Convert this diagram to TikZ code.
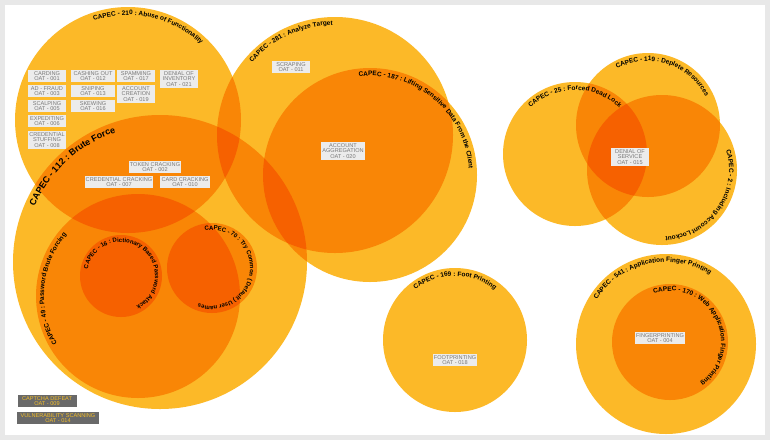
\documentclass[tikz,border=0pt]{standalone}
\usepackage{fontspec}
\setmainfont{Liberation Sans}
\usetikzlibrary{decorations.text}
\definecolor{ylo}{RGB}{252,185,40}
\definecolor{boxg}{RGB}{236,236,236}
\definecolor{boxt}{RGB}{120,120,120}
\definecolor{dark}{RGB}{105,105,105}
\definecolor{capy}{RGB}{245,190,40}
\begin{document}
\begin{tikzpicture}[x=1pt,y=1pt,
  circ/.style={fill=ylo,blend mode=multiply,draw=none},
  oat/.style={fill=boxg,text=boxt,font=\fontsize{5.6}{5.8}\selectfont,align=center,inner sep=1.2pt,minimum width=38pt},
  oatd/.style={fill=dark,text=capy,font=\fontsize{5.6}{5.8}\selectfont,align=center,inner sep=1.2pt}]
\fill[gray!18] (0,0) rectangle (770,-440);
\fill[white] (5,-5) rectangle (765,-435);
\useasboundingbox (0,0) rectangle (770,-440);
\newcommand{\Lab}[6]{% center, radius, a1, a2, size, text
 \path[decorate,decoration={text along path,text align=center,
   text={|\bfseries\fontsize{#5}{#5}\selectfont|#6}}] (#1) ++(#3:#2) arc[start angle=#3,end angle=#4,radius=#2];}
\begin{scope}[transparency group]
\fill[circ] (128,-120) circle (113);
\fill[circ] (335,-135) circle (118);
\fill[circ] (370,-175) circle (107);
\fill[circ] (160,-262) circle (147);
\fill[circ] (138,-296) circle (102);
\fill[circ] (121,-276) circle (41);
\fill[circ] (212,-268) circle (45);
\fill[circ] (575,-154) circle (72);
\fill[circ] (648,-125) circle (72);
\fill[circ] (662,-170) circle (75);
\fill[circ] (455,-340) circle (72);
\fill[circ] (666,-344) circle (90);
\fill[circ] (670,-342) circle (58);
\end{scope}
\coordinate (c210) at (128,-120);
\coordinate (c281) at (335,-135);
\coordinate (c187) at (370,-175);
\coordinate (c112) at (160,-262);
\coordinate (c49) at (138,-296);
\coordinate (c16) at (121,-276);
\coordinate (c70) at (212,-268);
\coordinate (c25) at (575,-154);
\coordinate (c119) at (648,-125);
\coordinate (c2) at (662,-170);
\coordinate (c169) at (455,-340);
\coordinate (c541) at (666,-344);
\coordinate (c170) at (670,-342);
\Lab{c210}{105}{125}{30}{6.5}{CAPEC - 210 : Abuse of Functionality}
\Lab{c281}{110}{160}{70}{6.5}{CAPEC - 281 : Analyze Target}
\Lab{c187}{99}{115}{-15}{6.5}{CAPEC - 187 : Lifting Sensitive Data From the Client}
\Lab{c112}{137}{165}{100}{9}{CAPEC - 112 : Brute Force}
\Lab{c49}{94}{215}{135}{6.5}{CAPEC - 49 : Password Brute Forcing}
\Lab{c16}{34}{225}{-120}{6}{CAPEC - 16 : Dictionary Based Password Attack}
\Lab{c70}{38}{165}{-175}{6}{CAPEC - 70 : Try Common ( Default ) User names}
\Lab{c25}{64}{140}{40}{6.5}{CAPEC - 25 : Forced Dead Lock}
\Lab{c119}{64}{125}{20}{6.5}{CAPEC - 119 : Deplete Resources}
\Lab{c2}{67}{30}{-100}{6.5}{CAPEC - 2 : Including Account Lockout}
\Lab{c169}{64}{140}{40}{6.5}{CAPEC - 169 : Foot Printing}
\Lab{c541}{82}{160}{45}{6.5}{CAPEC - 541 : Application Finger Printing}
\Lab{c170}{51}{130}{-75}{6.5}{CAPEC - 170 : Web Application Finger Printing}
\node[oat] (n1) at (47,-76) {CARDING\\OAT - 001};
\node[oat,minimum width=44pt] (n12) at (93,-76) {CASHING OUT\\OAT - 012};
\node[oat] (n17) at (136,-76) {SPAMMING\\OAT - 017};
\node[oat] (n21) at (179,-79) {DENIAL OF\\INVENTORY\\OAT - 021};
\node[oat] (n3) at (47,-91) {AD - FRAUD\\OAT - 003};
\node[oat,minimum width=44pt] (n13) at (93,-91) {SNIPING\\OAT - 013};
\node[oat] (n19) at (136,-94) {ACCOUNT\\CREATION\\OAT - 019};
\node[oat] (n5) at (47,-106) {SCALPING\\OAT - 005};
\node[oat,minimum width=44pt] (n16) at (93,-106) {SKEWING\\OAT - 016};
\node[oat] (n6) at (47,-121) {EXPEDITING\\OAT - 006};
\node[oat] (n8) at (47,-140) {CREDENTIAL\\STUFFING\\OAT - 008};
\node[oat] (n11) at (291,-67) {SCRAPING\\OAT - 011};
\node[oat] (n20) at (343,-151) {ACCOUNT\\AGGREGATION\\OAT - 020};
\node[oat] (n2) at (155,-167) {TOKEN CRACKING\\OAT - 002};
\node[oat] (n7) at (119,-182) {CREDENTIAL CRACKING\\OAT - 007};
\node[oat] (n10) at (185,-182) {CARD CRACKING\\OAT - 010};
\node[oat] (n15) at (630,-157) {DENIAL OF\\SERVICE\\OAT - 015};
\node[oat] (n18) at (455,-360) {FOOTPRINTING\\OAT - 018};
\node[oat] (n4) at (660,-338) {FINGERPRINTING\\OAT - 004};
\node[oatd,minimum width=59pt] (n9) at (47,-401) {CAPTCHA DEFEAT\\OAT - 009};
\node[oatd,minimum width=82pt] (n14) at (58,-418) {VULNERABILITY SCANNING\\OAT - 014};
\end{tikzpicture}
\end{document}
